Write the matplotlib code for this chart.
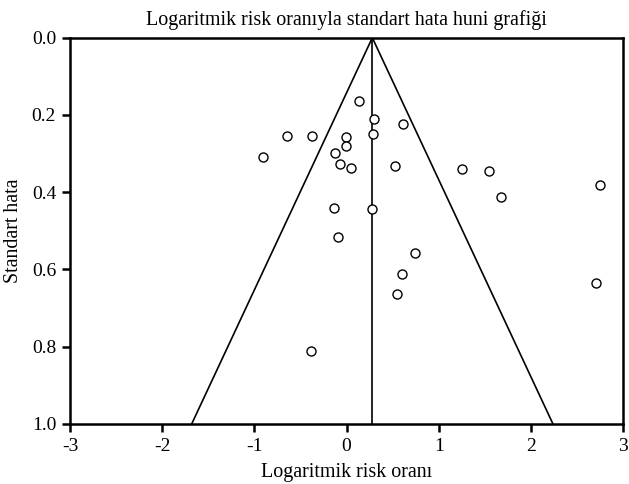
import numpy as np
import matplotlib.pyplot as plt

plt.rcParams['font.family'] = ['Liberation Serif', 'DejaVu Serif']
plt.rcParams['axes.unicode_minus'] = False

# log risk ratios and standard errors
log_rr = [0.14, 0.30, 0.61, -0.65, -0.37, -0.01, 0.29, -0.01, -0.12, -0.91,
          -0.07, 0.05, 0.53, 1.25, 1.55, 1.68, 2.75, -0.14, 0.28, -0.09,
          0.74, 0.60, 0.55, 2.71, -0.39]
std_err = [0.165, 0.210, 0.224, 0.254, 0.254, 0.258, 0.249, 0.280, 0.298, 0.310,
           0.328, 0.337, 0.333, 0.340, 0.344, 0.412, 0.382, 0.442, 0.443, 0.517,
           0.557, 0.612, 0.663, 0.634, 0.810]
pooled = 0.28
se_max = 1.0

fig = plt.figure(figsize=(6.29, 4.84), dpi=100)
ax = fig.add_axes([0.1113, 0.124, 0.8792, 0.798])

se_line = np.array([0.0, se_max])
ax.plot(pooled - 1.96 * se_line, se_line, color='black', lw=1.2)
ax.plot(pooled + 1.96 * se_line, se_line, color='black', lw=1.2)
ax.plot([pooled, pooled], [0, se_max], color='black', lw=1.2)
ax.plot(log_rr, std_err, 'o', mfc='white', mec='black', ms=6.5, mew=1.0)

ax.set_xlim(-3, 3)
ax.set_ylim(1.0, 0.0)
ax.set_xticks([-3, -2, -1, 0, 1, 2, 3])
ax.set_yticks([0.0, 0.2, 0.4, 0.6, 0.8, 1.0])
ax.set_yticklabels(['0.0', '0.2', '0.4', '0.6', '0.8', '1.0'])
for s in ax.spines.values():
    s.set_linewidth(1.8)
ax.tick_params(direction='out', length=6, width=1.8, labelsize=14, pad=4)
ax.set_xlabel('Logaritmik risk oranı', fontsize=14.4, labelpad=6)
ax.set_ylabel('Standart hata', fontsize=14.4, labelpad=6)
ax.set_title('Logaritmik risk oranıyla standart hata huni grafiği', fontsize=14.4, pad=9)

fig.savefig('out.png', dpi=100)
